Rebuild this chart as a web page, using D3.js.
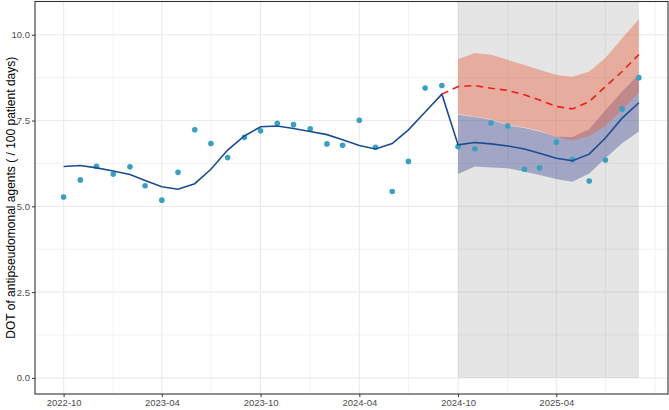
<!DOCTYPE html>
<html>
<head>
<meta charset="utf-8">
<script src="https://cdn.jsdelivr.net/npm/d3@7"></script>
<style>
  body { margin: 0; background: #fff; }
  svg text { font-family: "Liberation Sans", Arial, sans-serif; }
</style>
</head>
<body>
<div id="chart"></div>
<script>
// monthly DOT series
var months = ["2022-10","2022-11","2022-12","2023-01","2023-02","2023-03","2023-04","2023-05","2023-06",
  "2023-07","2023-08","2023-09","2023-10","2023-11","2023-12","2024-01","2024-02","2024-03","2024-04",
  "2024-05","2024-06","2024-07","2024-08","2024-09","2024-10","2024-11","2024-12","2025-01","2025-02",
  "2025-03","2025-04","2025-05","2025-06","2025-07","2025-08","2025-09"];

var observed = [5.27, 5.77, 6.17, 5.94, 6.15, 5.60, 5.18, 5.99, 7.23, 6.83, 6.42, 7.01,
  7.20, 7.42, 7.38, 7.26, 6.82, 6.78, 7.51, 6.72, 5.43, 6.31, 8.45, 8.52,
  6.74, 6.68, 7.43, 7.34, 6.08, 6.12, 6.87, 6.36, 5.74, 6.35, 7.84, 8.75];

var fitted = [6.16, 6.19, 6.12, 6.03, 5.93, 5.75, 5.57, 5.50, 5.66, 6.08, 6.64, 7.05,
  7.32, 7.34, 7.27, 7.18, 7.09, 6.94, 6.77, 6.67, 6.83, 7.23, 7.75, 8.27,
  6.79, 6.86, 6.82, 6.76, 6.67, 6.55, 6.40, 6.33, 6.52, 6.99, 7.57, 8.02];

// counterfactual (no intervention) starts at the last pre-period month
var cfMonths = ["2024-09","2024-10","2024-11","2024-12","2025-01","2025-02","2025-03",
  "2025-04","2025-05","2025-06","2025-07","2025-08","2025-09"];
var counterfactual = [8.27, 8.49, 8.52, 8.44, 8.38, 8.25, 8.10, 7.91, 7.84, 8.05, 8.49, 8.93, 9.42];

// post-period ribbons
var postMonths = cfMonths.slice(1);
var cfUpper  = [9.29, 9.47, 9.42, 9.27, 9.12, 8.98, 8.83, 8.78, 8.93, 9.32, 9.90, 10.46];
var cfLower  = [7.69, 7.62, 7.54, 7.38, 7.30, 7.20, 7.02, 6.92, 7.05, 7.35, 7.82, 8.32];
var fitUpper = [7.67, 7.60, 7.52, 7.36, 7.28, 7.18, 7.03, 7.02, 7.25, 7.80, 8.35, 8.85];
var fitLower = [5.94, 6.16, 6.13, 6.11, 6.01, 5.91, 5.80, 5.72, 5.96, 6.40, 6.84, 7.18];

var xTickLabels = ["2022-10","2023-04","2023-10","2024-04","2024-10","2025-04"];
var xMinorTicks = ["2023-01","2023-07","2024-01","2024-07","2025-01","2025-07","2025-10"];
var yTicks = [0, 2.5, 5, 7.5, 10];
var yMinorTicks = [1.25, 3.75, 6.25, 8.75];
var shadeStart = "2024-10", shadeEnd = "2025-09";

var w = 669, h = 410;
var plotL = 35, plotR = 668, plotT = 1.5, plotB = 394;
var parseMonth = d3.timeParse("%Y-%m");

var xScale = d3.scaleTime()
  .domain([new Date(2022, 7, 9), new Date(2025, 9, 25)])
  .range([plotL, plotR]);

var yScale = d3.scaleLinear()
  .domain([-0.47, 10.97])
  .range([plotB, plotT]);

var svg = d3.select("#chart").append("svg")
  .attr("width", w)
  .attr("height", h);

// grid
var grid = svg.append("g");
grid.selectAll(".ymin").data(yMinorTicks).enter().append("line")
  .attr("x1", plotL).attr("x2", plotR)
  .attr("y1", function(d) { return yScale(d); })
  .attr("y2", function(d) { return yScale(d); })
  .attr("stroke", "#ebebeb").attr("stroke-width", 0.7);
grid.selectAll(".xmin").data(xMinorTicks).enter().append("line")
  .attr("y1", plotT).attr("y2", plotB)
  .attr("x1", function(d) { return xScale(parseMonth(d)); })
  .attr("x2", function(d) { return xScale(parseMonth(d)); })
  .attr("stroke", "#ebebeb").attr("stroke-width", 0.7);
grid.selectAll(".ymaj").data(yTicks).enter().append("line")
  .attr("x1", plotL).attr("x2", plotR)
  .attr("y1", function(d) { return yScale(d); })
  .attr("y2", function(d) { return yScale(d); })
  .attr("stroke", "#ebebeb").attr("stroke-width", 1.1);
grid.selectAll(".xmaj").data(xTickLabels).enter().append("line")
  .attr("y1", plotT).attr("y2", plotB)
  .attr("x1", function(d) { return xScale(parseMonth(d)); })
  .attr("x2", function(d) { return xScale(parseMonth(d)); })
  .attr("stroke", "#ebebeb").attr("stroke-width", 1.1);

// post-intervention shading
svg.append("rect")
  .attr("x", xScale(parseMonth(shadeStart)))
  .attr("width", xScale(parseMonth(shadeEnd)) - xScale(parseMonth(shadeStart)))
  .attr("y", plotT)
  .attr("height", yScale(0) - plotT)
  .attr("fill", "#7f7f7f")
  .attr("opacity", 0.2);

function band(lo, hi) {
  return d3.area()
    .x(function(d, i) { return xScale(parseMonth(postMonths[i])); })
    .y0(function(d, i) { return yScale(lo[i]); })
    .y1(function(d, i) { return yScale(hi[i]); })(postMonths);
}

svg.append("path")
  .attr("d", band(fitLower, fitUpper))
  .attr("fill", "#1a237e")
  .attr("opacity", 0.33);

svg.append("path")
  .attr("d", band(cfLower, cfUpper))
  .attr("fill", "#e8603c")
  .attr("opacity", 0.42);

// observed points
svg.selectAll(".pt").data(observed).enter().append("circle")
  .attr("cx", function(d, i) { return xScale(parseMonth(months[i])); })
  .attr("cy", function(d) { return yScale(d); })
  .attr("r", 2.8)
  .attr("fill", "#3a9fc1");

var fitLine = d3.line()
  .x(function(d, i) { return xScale(parseMonth(months[i])); })
  .y(function(d) { return yScale(d); });

svg.append("path")
  .datum(fitted)
  .attr("d", fitLine)
  .attr("fill", "none")
  .attr("stroke", "#1b4c93")
  .attr("stroke-width", 1.6);

var cfLine = d3.line()
  .x(function(d, i) { return xScale(parseMonth(cfMonths[i])); })
  .y(function(d) { return yScale(d); });

svg.append("path")
  .datum(counterfactual)
  .attr("d", cfLine)
  .attr("fill", "none")
  .attr("stroke", "#f01c1c")
  .attr("stroke-width", 1.6)
  .attr("stroke-dasharray", "7,5");

// axes
var xAxis = d3.axisBottom(xScale)
  .tickValues(xTickLabels.map(parseMonth))
  .tickFormat(d3.timeFormat("%Y-%m"))
  .tickSize(3)
  .tickPadding(2);

var yAxis = d3.axisLeft(yScale)
  .tickValues(yTicks)
  .tickFormat(d3.format(".1f"))
  .tickSize(3)
  .tickPadding(2);

var gx = svg.append("g")
  .attr("transform", "translate(0," + plotB + ")")
  .call(xAxis);
var gy = svg.append("g")
  .attr("transform", "translate(" + plotL + ",0)")
  .call(yAxis);

[gx, gy].forEach(function(g) {
  g.select(".domain").remove();
  g.selectAll(".tick line").attr("stroke", "#333");
  g.selectAll(".tick text")
    .attr("fill", "#4d4d4d")
    .style("font-size", "9.5px");
});

svg.append("rect")
  .attr("x", plotL).attr("y", plotT)
  .attr("width", plotR - plotL).attr("height", plotB - plotT)
  .attr("fill", "none")
  .attr("stroke", "#333")
  .attr("stroke-width", 1.1);

svg.append("text")
  .attr("transform", "translate(11," + ((plotT + plotB) / 2) + ") rotate(-90)")
  .attr("text-anchor", "middle")
  .attr("dy", "0.35em")
  .style("font-size", "12px")
  .attr("fill", "#000")
  .text("DOT of antipseudomonal agents ( / 100 patient days)");
</script>
</body>
</html>
